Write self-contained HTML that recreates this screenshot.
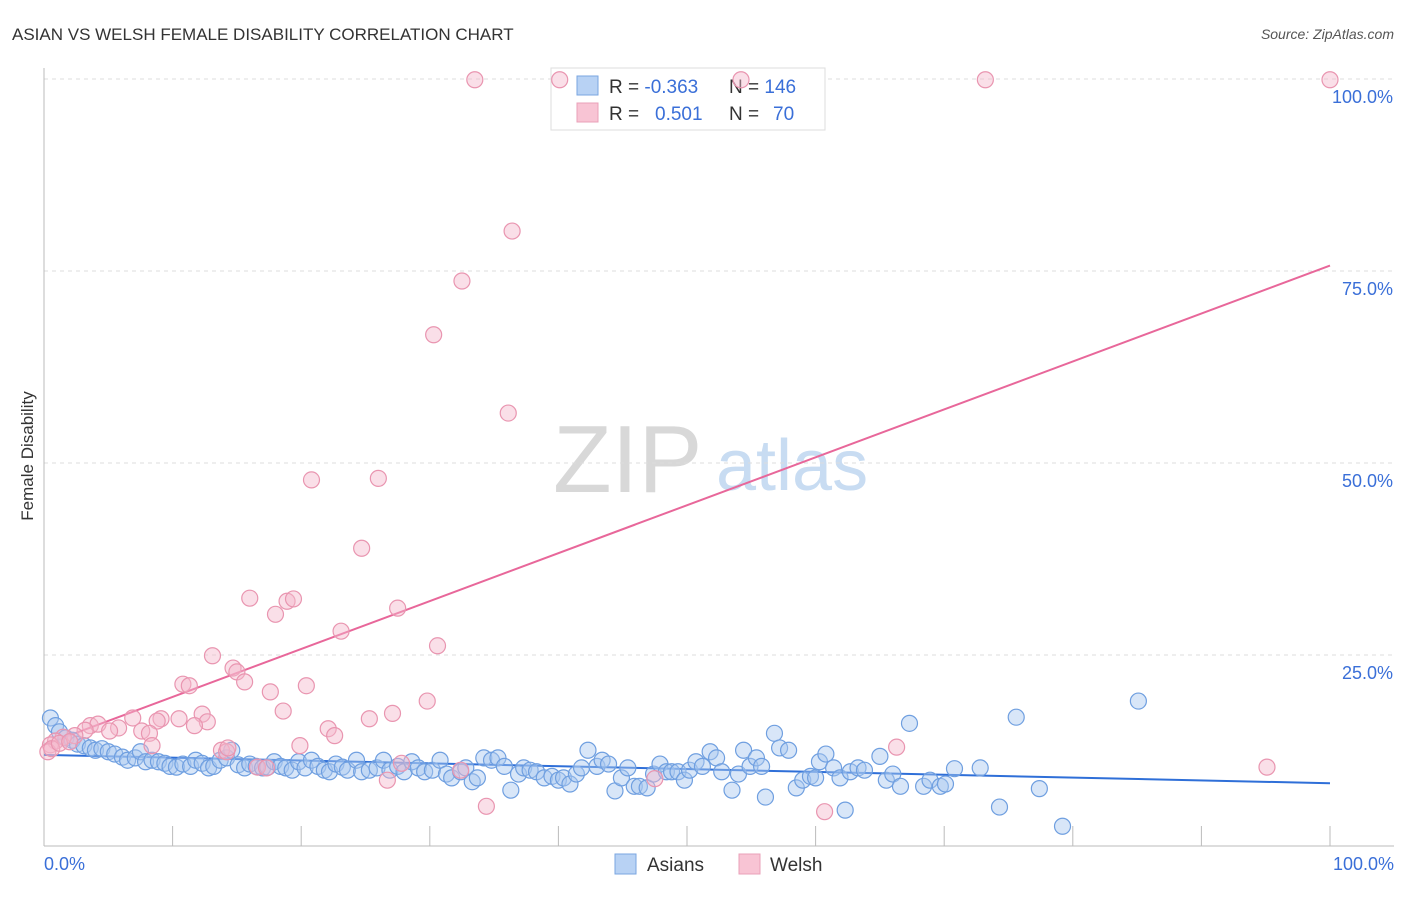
<!DOCTYPE html>
<html><head><meta charset="utf-8"><style>
body{margin:0;background:#fff;font-family:"Liberation Sans",sans-serif}
svg text{font-family:"Liberation Sans",sans-serif}
</style></head><body>
<svg id="chart" width="1406" height="892" viewBox="0 0 1406 892" xmlns="http://www.w3.org/2000/svg">
<text x="12" y="40" font-size="17" fill="#333">ASIAN VS WELSH FEMALE DISABILITY CORRELATION CHART</text>
<text x="1394" y="39" font-size="14" fill="#555" font-style="italic" text-anchor="end">Source: ZipAtlas.com</text>
<g>
<text x="553" y="492" font-size="96" fill="#d8d8d8" font-family="Liberation Serif,serif">ZIP</text>
<text x="716" y="490" font-size="72" fill="#c8dcf2">atlas</text>
</g>
<g id="grid"></g>
<g id="axes"></g>
<g>
<rect x="551" y="68" width="274" height="62" fill="#fff" stroke="#ddd"/>
<rect x="577" y="76" width="21" height="19" fill="#b8d2f4" stroke="#7aa6e0"/>
<rect x="577" y="103" width="21" height="19" fill="#f8c4d4" stroke="#eaa0b8"/>
<text x="609" y="93" font-size="19" fill="#333">R = <tspan fill="#3a6fd8">-0.363</tspan></text>
<text x="729" y="93" font-size="19" fill="#333">N = <tspan fill="#3a6fd8">146</tspan></text>
<text x="609" y="120" font-size="19" fill="#333">R = </text><text x="655" y="120" font-size="19" fill="#3a6fd8">0.501</text>
<text x="729" y="120" font-size="19" fill="#333">N = </text><text x="773" y="120" font-size="19" fill="#3a6fd8">70</text>
</g>
<g id="trend"></g>
<g id="points"></g>
<text transform="translate(33,456) rotate(-90)" font-size="17" fill="#333" text-anchor="middle">Female Disability</text>
<g>
<rect x="615" y="854" width="21" height="20" fill="#b8d2f4" stroke="#7aa6e0"/>
<text x="647" y="871" font-size="19" fill="#333">Asians</text>
<rect x="739" y="854" width="21" height="20" fill="#f8c4d4" stroke="#eaa0b8"/>
<text x="770" y="871" font-size="19" fill="#333">Welsh</text>
</g>
</svg>
<script>
const yTicks=[100,75,50,25];
const yTickLabels=["100.0%","75.0%","50.0%","25.0%"];
const xTickLabels=["0.0%","100.0%"];
const asianX=[0.5,0.9,1.2,1.7,2.2,2.6,3.1,3.6,4.0,4.5,5.0,5.5,6.1,6.5,7.1,7.5,7.9,8.4,8.9,9.4,9.8,10.3,10.8,11.4,11.8,12.3,12.8,13.2,13.7,14.2,14.6,15.1,15.6,16.0,16.5,17.0,17.4,17.9,18.4,18.8,19.3,19.8,20.3,20.8,21.3,21.8,22.2,22.7,23.2,23.6,24.3,24.7,25.3,25.9,26.4,26.9,27.5,28.0,28.6,29.1,29.6,30.2,30.8,31.3,31.7,32.4,32.8,33.3,33.7,34.2,34.8,35.3,35.8,36.3,36.9,37.3,37.8,38.3,38.9,39.5,40.0,40.4,40.9,41.4,41.8,42.3,43.0,43.4,43.9,44.4,44.9,45.4,45.9,46.3,46.9,47.4,47.9,48.4,48.8,49.3,49.8,50.2,50.7,51.2,51.8,52.3,52.7,53.5,54.0,54.4,54.9,55.4,55.8,56.1,56.8,57.2,57.9,58.5,59.0,59.6,60.0,60.3,60.8,61.4,61.9,62.3,62.7,63.3,63.8,65.0,65.5,66.0,66.6,67.3,68.4,68.9,69.7,70.1,70.8,72.8,74.3,75.6,77.4,79.2,85.1];
const asianY=[16.8,15.8,15.0,14.2,13.9,13.4,13.2,12.9,12.6,12.8,12.4,12.1,11.7,11.3,11.6,12.4,11.1,11.3,11.1,10.9,10.5,10.4,10.8,10.5,11.3,10.9,10.3,10.5,11.3,11.6,12.6,10.7,10.3,10.8,10.5,10.3,10.4,11.1,10.5,10.3,10.0,11.1,10.3,11.3,10.5,10.0,9.8,10.8,10.4,10.0,11.3,9.8,10.0,10.3,11.3,10.0,10.5,9.8,11.1,10.3,9.8,10.0,11.3,9.5,9.0,9.8,10.3,8.5,9.0,11.6,11.3,11.6,10.5,7.4,9.5,10.3,10.0,9.8,9.0,9.2,8.7,9.0,8.2,9.5,10.3,12.6,10.5,11.3,10.8,7.3,9.0,10.3,7.9,7.9,7.7,9.5,10.8,9.8,9.8,9.8,8.7,10.0,11.1,10.5,12.4,11.6,9.8,7.4,9.5,12.6,10.5,11.6,10.5,6.5,14.8,12.9,12.6,7.7,8.7,9.2,9.0,11.1,12.1,10.3,9.0,4.8,9.8,10.3,10.0,11.8,8.7,9.5,7.9,16.1,7.9,8.7,7.9,8.2,10.2,10.3,5.2,16.9,7.6,2.7,19.0];
const welshX=[33.5,40.1,54.2,73.2,100,36.4,32.5,30.3,36.1,20.8,26.0,24.7,16.0,18.0,18.9,19.4,27.5,23.1,30.6,13.1,14.7,15.0,15.6,10.8,11.3,17.6,20.4,29.8,18.6,12.3,27.1,25.3,10.5,6.9,9.1,8.8,12.7,11.7,22.1,22.6,3.6,4.2,5.8,5.1,7.6,8.2,3.2,2.4,1.5,0.9,0.5,0.3,0.6,19.9,8.4,13.8,14.2,16.6,17.3,27.8,26.7,32.4,47.5,66.3,95.1,34.4,60.7,1.2,2.0,14.3];
const welshY=[99.9,99.9,99.9,99.9,99.9,80.2,73.7,66.7,56.5,47.8,48.0,38.9,32.4,30.3,32.0,32.3,31.1,28.1,26.2,24.9,23.3,22.8,21.5,21.2,21.0,20.2,21.0,19.0,17.7,17.3,17.4,16.7,16.7,16.8,16.7,16.4,16.3,15.8,15.4,14.5,15.8,16.0,15.5,15.1,15.1,14.8,15.2,14.5,14.3,13.8,13.3,12.4,12.8,13.2,13.2,12.6,12.4,10.4,10.3,10.9,8.7,10.0,8.9,13.0,10.4,5.3,4.6,13.5,13.7,12.9];
const asianTrend=[12.0,8.3];
const welshTrend=[13.3,75.7];

const NS="http://www.w3.org/2000/svg";
const X0=44,X1=1330,Y0=847,Y100=79;
function sx(v){return X0+(X1-X0)*v/100;}
function sy(v){return Y0-(Y0-Y100)*v/100;}
function mk(tag,attrs,parent){const e=document.createElementNS(NS,tag);for(const k in attrs)e.setAttribute(k,attrs[k]);parent.appendChild(e);return e;}
const grid=document.getElementById('grid'),axes=document.getElementById('axes'),trend=document.getElementById('trend'),pts=document.getElementById('points');
yTicks.forEach((t,i)=>{
 const l=mk('line',{x1:44,x2:1394,y1:sy(t),y2:sy(t),stroke:'#ddd','stroke-dasharray':'4,4'},grid);
 
 
 const tx=mk('text',{x:1393,y:sy(t)+24,'font-size':18,fill:'#3a6fd8','text-anchor':'end'},grid);
 tx.textContent=yTickLabels[i];
 
 
});
const ax=mk('line',{x1:44,x2:1394,y1:846,y2:846,stroke:'#bbb'},axes);


const ay=mk('line',{x1:44,x2:44,y1:68,y2:846,stroke:'#bbb'},axes);


for(let i=1;i<=10;i++){
 const t=mk('line',{x1:sx(i*10),x2:sx(i*10),y1:826,y2:846,stroke:'#bbb'},axes);
 
 
}
const xl0=mk('text',{x:44,y:870,'font-size':18,fill:'#3a6fd8'},axes);xl0.textContent=xTickLabels[0];


const xl1=mk('text',{x:1394,y:870,'font-size':18,fill:'#3a6fd8','text-anchor':'end'},axes);xl1.textContent=xTickLabels[1];


asianX.forEach((x,i)=>{
 const c=mk('circle',{cx:sx(x),cy:sy(asianY[i]),r:8,fill:'rgba(168,200,240,0.45)',stroke:'#6f9fe0','stroke-width':1.2},pts);
 
 
});
welshX.forEach((x,i)=>{
 const c=mk('circle',{cx:sx(x),cy:sy(welshY[i]),r:8,fill:'rgba(245,184,204,0.45)',stroke:'#e995b0','stroke-width':1.2},pts);
 
 
});
const tb=mk('line',{x1:sx(0),y1:sy(asianTrend[0]),x2:sx(100),y2:sy(asianTrend[1]),stroke:'#2f6fd8','stroke-width':2},trend);


const tp=mk('line',{x1:sx(0),y1:sy(welshTrend[0]),x2:sx(100),y2:sy(welshTrend[1]),stroke:'#e8679a','stroke-width':2},trend);


</script>
</body></html>
